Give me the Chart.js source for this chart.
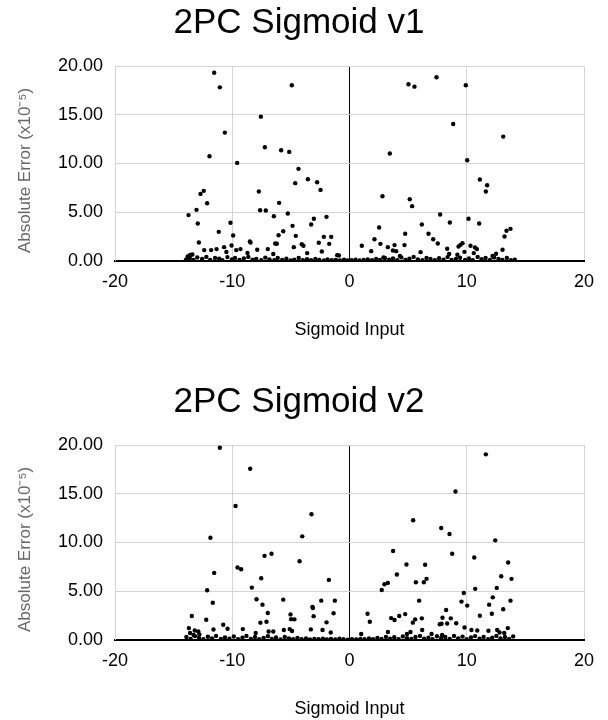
<!DOCTYPE html>
<html>
<head>
<meta charset="utf-8">
<script src="https://cdn.jsdelivr.net/npm/chart.js@4.4.0/dist/chart.umd.min.js"></script>
<style>
  body { margin: 0; background: #fff; }
  canvas { position: absolute; left: 0; }
  #c1 { top: 0; }
  #c2 { top: 379px; }
</style>
</head>
<body>
<canvas id="c1" width="608" height="341"></canvas>
<canvas id="c2" width="608" height="341"></canvas>
<script>
const titles = ['2PC Sigmoid v1', '2PC Sigmoid v2'];
const xTicks = [-20, -10, 0, 10, 20];
const yTicks = [0, 5, 10, 15, 20];

// v1: sigmoid input / absolute error (x1e-5)
const v1X = [
  -11.54, -11.06, -10.63, -11.94, -9.58, -13.73, -13.05, -12.71, -12.43, -12.14, -12.94, -12.85, -11.15, -10.15, -9.92,
  -7.56, -7.22, -7.73, -7.62, -7.14, -5.83, -5.14, -4.92, -4.35, -4.63, -3.55, -2.76, -2.47, -3.04, -3.27, -1.96,
  -6.0, -5.26, -6.45, -4.86, -5.65, -6.05, -4.58, -6.34, -6.2, -4.75, -4.07, -3.93, -2.62, -2.19, -1.56, -1.73, -2.36,
  -3.61, -6.97, -6.5, -7.87, -8.5, -8.44, -9.3, -8.7, -9.66, -10.06, -10.7, -10.5, -11.34, -11.8, -12.39, -13.6, -13.8,
  -13.4, -0.9, -1.05,
  5.03, 5.54, 7.42, 9.92, 8.84, 13.11, 3.44, 10.04, 11.12, 11.74, 11.63, 2.81, 5.14, 5.34, 7.73, 10.15, 8.56, 11.06,
  6.17, 2.53, 13.73, 13.39, 13.22, 4.75, 6.74, 7.14, 7.53, 2.13, 2.64, 1.05, 3.27, 3.84, 4.69, 1.85, 3.7, 3.98, 6.06,
  8.33, 9.3, 9.47, 9.64, 9.8, 10.32, 10.7, 10.87, 10.6, 9.2, 12.5, 12.2, 13.05, 8.5, 2.9, 4.3,
  -13.95, -13.62, -13.31, -12.98, -12.57, -12.21, -11.88, -11.47, -11.12, -10.84, -10.41, -10.02, -9.76, -9.38, -9.01,
  -8.63, -8.27, -7.95, -7.52, -7.18, -6.83, -6.41, -6.12, -5.74, -5.38, -5.02, -4.71, -4.33, -3.98, -3.62, -3.28,
  -2.91, -2.58, -2.18, -1.87, -1.51, -1.17, -0.82, -0.47, -0.15, 0.18, 0.52, 0.86, 1.21, 1.55, 1.92, 2.27, 2.61,
  3.02, 3.38, 3.71, 4.07, 4.42, 4.78, 5.11, 5.47, 5.83, 6.22, 6.57, 6.91, 7.28, 7.64, 8.02, 8.37, 8.71, 9.08, 9.43,
  9.86, 10.19, 10.52, 10.93, 11.27, 11.61, 11.98, 12.33, 12.71, 13.04, 13.42, 13.77, 14.1
];
const v1Y = [
  19.31, 17.81, 13.16, 10.74, 10.05, 4.69, 5.23, 6.87, 7.18, 5.91, 3.83, 1.88, 2.97, 3.9, 2.6,
  14.8, 11.66, 7.11, 5.19, 5.16, 11.35, 11.18, 18.02, 9.44, 7.97, 8.38, 8.07, 7.28, 4.31, 3.73, 4.51,
  5.95, 4.85, 4.58, 3.59, 3.04, 2.63, 2.56, 1.78, 1.75, 1.4, 1.71, 1.54, 1.85, 2.46, 2.46, 1.74, 0.96,
  0.79, 1.2, 0.7, 1.13, 1.98, 1.88, 1.2, 0.8, 1.1, 1.57, 1.4, 0.9, 1.2, 1.1, 1.1, 0.6, 0.45,
  0.65, 0.55, 0.58,
  18.12, 17.88, 18.84, 18.02, 14.05, 12.75, 11.01, 10.32, 8.34, 7.76, 7.11, 6.63, 6.32, 5.61, 4.75, 4.31, 3.93, 3.83,
  3.73, 3.42, 3.28, 3.08, 2.5, 2.77, 2.77, 2.22, 1.78, 2.22, 1.74, 1.54, 1.4, 1.61, 1.61, 0.99, 1.06, 0.99, 0.89,
  1.23, 1.47, 1.64, 1.81, 0.92, 1.54, 1.37, 1.2, 0.79, 0.62, 0.72, 0.5, 1.13, 0.7, 0.35, 0.5,
  0.12, 0.28, 0.08, 0.35, 0.18, 0.4, 0.1, 0.3, 0.22, 0.05, 0.38, 0.15, 0.3, 0.08, 0.25,
  0.4, 0.12, 0.2, 0.06, 0.33, 0.15, 0.05, 0.3, 0.1, 0.22, 0.04, 0.12, 0.28, 0.07, 0.16, 0.05,
  0.2, 0.09, 0.03, 0.14, 0.06, 0.1, 0.04, 0.12, 0.03, 0.05, 0.11, 0.03, 0.09, 0.15, 0.06, 0.2, 0.08,
  0.3, 0.12, 0.25, 0.06, 0.35, 0.1, 0.22, 0.4, 0.14, 0.06, 0.3, 0.18, 0.05, 0.26, 0.12, 0.38, 0.08, 0.2, 0.32,
  0.1, 0.25, 0.06, 0.4, 0.16, 0.3, 0.08, 0.35, 0.2, 0.1, 0.28, 0.05, 0.12
];

// v2
const v2X = [
  -11.06, -8.47, -9.72, -11.86, -11.54, -12.14, -11.66, -13.45, -12.22, -11.6, -10.77, -10.4, -13.7, -13.6, -13.2,
  -12.9, -12.8, -13.3, -9.55, -9.24, -7.25, -6.65, -7.53, -8.33, -7.93, -7.42, -6.97, -7.08, -7.6, -9.1, -8.0, -6.9,
  -6.5, -5.65, -4.03, -3.24, -4.26, -5.03, -4.98, -4.7, -3.16, -3.12, -3.06, -3.3, -2.41, -1.76, -1.25, -1.36, -1.96,
  -2.3, -5.6, -5.1, -4.9, -1.6,
  11.63, 9.04, 5.43, 7.82, 8.53, 12.43, 3.72, 8.76, 10.64, 13.53, 4.86, 6.45, 4.04, 12.94, 13.82, 6.57, 6.34, 5.66,
  3.27, 2.98, 2.75, 10.72, 12.56, 9.75, 12.22, 9.55, 5.94, 13.73, 10.04, 11.91, 13.11, 8.24, 11.12, 12.14, 1.54, 1.73,
  3.55, 3.84, 4.24, 4.75, 5.4, 5.6, 6.17, 7.7, 7.85, 7.93, 8.33, 8.64, 9.1, 6.2, 3.28, 9.81, 10.4, 10.9, 11.85, 12.6,
  12.8, 13.5, 13.2, 5.2, 4.9, 1.0, 7.0, 7.9,
  -13.91, -13.55, -13.18, -12.84, -12.46, -12.08, -11.73, -11.38, -10.97, -10.62, -10.24, -9.87, -9.51, -9.13, -8.79,
  -8.41, -8.06, -7.71, -7.33, -6.96, -6.62, -6.27, -5.88, -5.52, -5.17, -4.81, -4.44, -4.09, -3.71, -3.37, -2.99,
  -2.64, -2.27, -1.93, -1.58, -1.21, -0.86, -0.52, -0.16, 0.21, 0.57, 0.93, 1.28, 1.66, 2.01, 2.38, 2.73, 3.11,
  3.46, 3.82, 4.19, 4.55, 4.91, 5.28, 5.63, 6.01, 6.36, 6.73, 7.08, 7.46, 7.82, 8.17, 8.55, 8.91, 9.27, 9.64, 9.99,
  10.36, 10.71, 11.09, 11.44, 11.82, 12.17, 12.53, 12.88, 13.26, 13.61, 13.96
];
const v2Y = [
  19.72, 17.56, 13.74, 10.48, 6.87, 5.09, 3.81, 2.44, 2.06, 1.06, 1.55, 1.13, 1.2, 0.7, 0.95,
  0.85, 0.55, 0.5, 7.42, 7.25, 8.62, 8.83, 6.32, 5.36, 4.16, 3.61, 2.75, 1.86, 1.76, 1.1, 0.7, 0.85,
  0.85, 4.12, 10.62, 12.89, 8.07, 2.61, 2.12, 2.1, 3.37, 3.26, 2.43, 1.07, 4.02, 6.15, 4.02, 2.72, 1.79,
  1.0, 1.0, 1.1, 0.9, 0.75,
  19.04, 15.22, 12.27, 11.48, 10.86, 10.21, 9.11, 8.83, 8.45, 7.94, 7.73, 7.7, 6.7, 6.53, 6.26, 6.26, 5.91, 5.91,
  5.84, 5.7, 5.12, 5.23, 5.33, 4.81, 4.36, 3.92, 4.02, 4.02, 3.51, 3.61, 3.13, 3.06, 2.47, 2.68, 2.68, 1.86,
  2.23, 2.03, 2.44, 2.64, 1.76, 2.1, 2.2, 1.6, 1.65, 2.27, 1.68, 2.2, 1.7, 1.0, 0.8, 1.27, 1.0, 0.95, 0.93, 1.0,
  0.75, 1.2, 0.7, 0.8, 0.6, 0.6, 0.6, 0.5,
  0.3, 0.1, 0.38, 0.2, 0.05, 0.32, 0.15, 0.4, 0.08, 0.25, 0.12, 0.34, 0.06, 0.22, 0.4,
  0.1, 0.28, 0.05, 0.18, 0.36, 0.09, 0.24, 0.04, 0.3, 0.13, 0.07, 0.2, 0.05, 0.15, 0.03, 0.1,
  0.06, 0.12, 0.04, 0.08, 0.03, 0.11, 0.05, 0.02, 0.07, 0.04, 0.1, 0.06, 0.14, 0.05, 0.2, 0.09, 0.3,
  0.12, 0.26, 0.06, 0.35, 0.16, 0.08, 0.3, 0.4, 0.12, 0.22, 0.05, 0.36, 0.18, 0.28, 0.1, 0.4, 0.15, 0.33, 0.07,
  0.25, 0.38, 0.12, 0.3, 0.05, 0.22, 0.4, 0.14, 0.28, 0.08, 0.35, 0.12
];

const FONT = "'Liberation Sans', Arial, sans-serif";
const GRID = '#d4d4d4';

function makeChart(id, title, xs, ys) {
  const points = xs.map((x, i) => ({ x: x, y: ys[i] }));
  return new Chart(document.getElementById(id), {
    type: 'scatter',
    data: {
      datasets: [{
        data: points,
        backgroundColor: '#000',
        borderWidth: 0,
        pointRadius: 2.2,
      }],
    },
    options: {
      responsive: false,
      animation: false,
      layout: { padding: { left: 14, right: 24, top: 0, bottom: 0 } },
      plugins: {
        legend: { display: false },
        tooltip: { enabled: false },
        title: {
          display: true,
          text: title,
          color: '#000',
          font: { family: FONT, size: 35, weight: 'normal' },
          padding: { top: 2, bottom: 22 },
        },
      },
      scales: {
        x: {
          type: 'linear',
          min: xTicks[0],
          max: xTicks[xTicks.length - 1],
          afterBuildTicks: (s) => { s.ticks = xTicks.map(v => ({ value: v })); },
          grid: {
            drawTicks: false,
            color: (ctx) => (ctx.tick && ctx.tick.value === 0 ? '#000' : GRID),
          },
          border: { display: true, color: '#000', width: 2 },
          ticks: {
            padding: 10,
            color: '#000',
            font: { family: FONT, size: 18, weight: 'normal' },
          },
          title: {
            display: true,
            text: 'Sigmoid Input',
            color: '#000',
            font: { family: FONT, size: 18, weight: 'normal' },
            padding: { top: 17, bottom: 0 },
          },
        },
        y: {
          min: yTicks[0],
          max: yTicks[yTicks.length - 1],
          afterBuildTicks: (s) => { s.ticks = yTicks.map(v => ({ value: v })); },
          afterFit: (s) => { s.width = 101; },
          grid: {
            drawTicks: false,
            color: (ctx) => (ctx.tick && ctx.tick.value === 0 ? '#000' : GRID),
          },
          border: { display: true, color: GRID },
          ticks: {
            padding: 12,
            color: '#000',
            font: { family: FONT, size: 18, weight: 'normal' },
            callback: (v) => Number(v).toFixed(2),
          },
          title: {
            display: true,
            // trailing spaces nudge the rotated label down a little
            text: 'Absolute Error (x10⁻⁵)   ',
            color: '#666',
            font: { family: FONT, size: 17, weight: 'normal' },
            padding: { top: 1, bottom: 0 },
          },
        },
      },
    },
  });
}

makeChart('c1', titles[0], v1X, v1Y);
makeChart('c2', titles[1], v2X, v2Y);
</script>
</body>
</html>
